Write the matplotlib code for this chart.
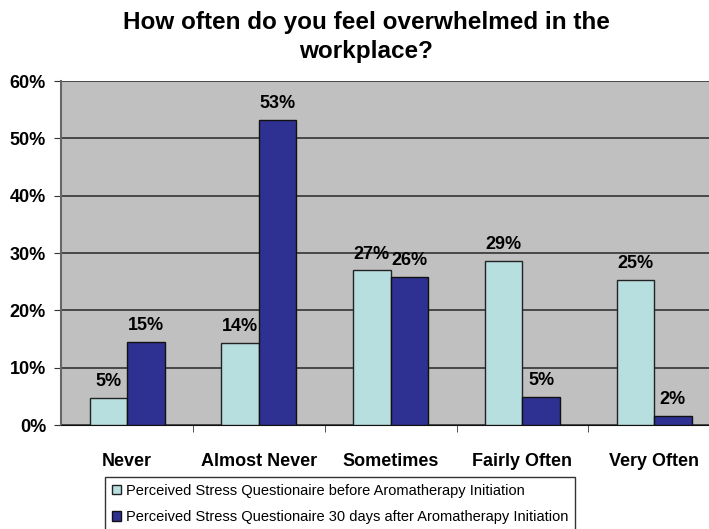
import numpy as np
import matplotlib.pyplot as plt

plt.rcParams['font.family'] = ['Liberation Sans', 'DejaVu Sans']

categories = ['Never', 'Almost Never', 'Sometimes', 'Fairly Often', 'Very Often']
before = [4.7, 14.3, 27.0, 28.6, 25.3]
after = [14.5, 53.2, 25.8, 4.9, 1.6]
before_labels = ['5%', '14%', '27%', '29%', '25%']
after_labels = ['15%', '53%', '26%', '5%', '2%']
series_names = ['Perceived Stress Questionaire before Aromatherapy Initiation',
                'Perceived Stress Questionaire 30 days after Aromatherapy Initiation']
yticks = [0, 10, 20, 30, 40, 50, 60]

light = '#B8DFE0'
dark = '#2E3192'

fig = plt.figure(figsize=(7.09, 5.29), dpi=100)
# plot area runs past the right edge of the picture, like the cropped original
ax = fig.add_axes([61.3 / 709, 1 - 425 / 529, (720 - 61.3) / 709, (425 - 81) / 529])
ax.set_facecolor('#C0C0C0')

x = np.arange(len(categories))
w = 0.285
b1 = ax.bar(x - w / 2, before, w, color=light, edgecolor='#222222', linewidth=1, zorder=3, label=series_names[0])
b2 = ax.bar(x + w / 2, after, w, color=dark, edgecolor='#111111', linewidth=1, zorder=3, label=series_names[1])

for bars, labs in ((b1, before_labels), (b2, after_labels)):
    for bar, lab in zip(bars, labs):
        ax.annotate(lab, (bar.get_x() + bar.get_width() / 2, bar.get_height()),
                    xytext=(0, 5.5), textcoords='offset points', ha='center', va='bottom',
                    fontsize=13, fontweight='bold', zorder=4)

ax.set_xlim(-0.5, 4.5)
ax.set_ylim(0, 60)
ax.set_yticks(yticks)
ax.set_yticklabels([f'{t}%' for t in yticks], fontsize=13, fontweight='bold')
ax.set_xticks(x)
ax.set_xticklabels(categories, fontsize=13, fontweight='bold')
ax.set_xticks(np.arange(0.5, 4.5, 1), minor=True)
ax.tick_params(axis='x', which='major', length=0, pad=20)
ax.tick_params(axis='x', which='minor', length=5, color='#333333')
ax.tick_params(axis='y', length=5, pad=6, color='#333333')

ax.grid(axis='y', color='#333333', linewidth=1.2, zorder=1)
ax.spines['top'].set_visible(False)
ax.spines['right'].set_visible(False)
ax.spines['left'].set_color('#666666')
ax.spines['left'].set_linewidth(1.5)
ax.spines['bottom'].set_color('#111111')

fig.text(366 / 709, 1 - 37 / 529, 'How often do you feel overwhelmed in the\nworkplace?',
         ha='center', va='center', fontsize=17.5, fontweight='bold', linespacing=1.32)

fig.legend(handles=[b1, b2], loc='upper left', bbox_to_anchor=(105 / 709, 1 - 477 / 529),
           fontsize=10.5, frameon=True, fancybox=False, edgecolor='black',
           handlelength=0.62, handleheight=0.62, handletextpad=0.35, borderpad=0.45,
           labelspacing=0.85, borderaxespad=0)

fig.savefig('out.png', dpi=100)
